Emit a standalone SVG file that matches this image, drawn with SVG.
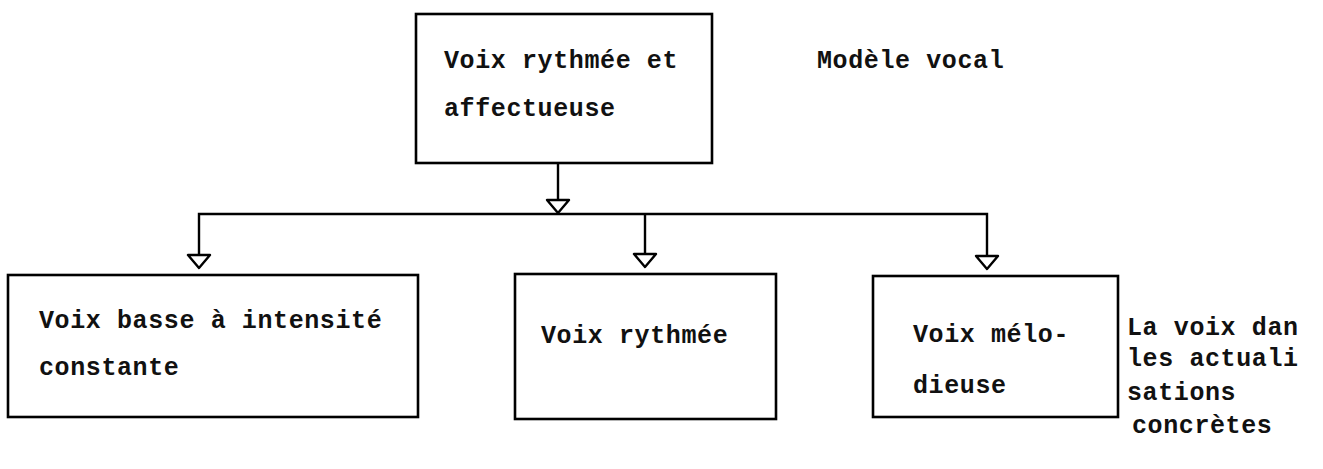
<svg xmlns="http://www.w3.org/2000/svg" width="1323" height="469" viewBox="0 0 1323 469">
  <style>
    .box { fill: none; stroke: #000; stroke-width: 2.6; }
    .wire { fill: none; stroke: #000; stroke-width: 2.4; }
    .tip { fill: #fff; stroke: #000; stroke-width: 2.4; stroke-linejoin: round; }
    text { font-family: "Liberation Mono", "Courier New", monospace; font-size: 25px; font-weight: bold; fill: #111; letter-spacing: 0.6px; }
  </style>
  <defs>
    <!-- open downward triangle used at the end of each drop line -->
    <polygon id="head" class="tip" points="-11,-13 11,-13 0,0"/>
  </defs>
  <rect width="1323" height="469" fill="#fff"/>

  <g id="connectors">
    <path class="wire" d="M558,163 V200"/>
    <path class="wire" d="M199,268 V214 H987 V268"/>
    <path class="wire" d="M645,214 V266"/>
    <use href="#head" x="558" y="213"/>
    <use href="#head" x="199" y="268"/>
    <use href="#head" x="645" y="267"/>
    <use href="#head" x="987" y="269"/>
  </g>

  <g id="node-top">
    <rect class="box" x="416" y="14" width="296" height="149"/>
    <text x="444" y="68">Voix rythmée et</text>
    <text x="444" y="116">affectueuse</text>
  </g>

  <g id="label-model">
    <text x="817" y="68">Modèle vocal</text>
  </g>

  <g id="node-low">
    <rect class="box" x="8" y="275" width="410" height="142"/>
    <text x="39" y="328">Voix basse à intensité</text>
    <text x="39" y="375">constante</text>
  </g>

  <g id="node-rhythm">
    <rect class="box" x="515" y="274" width="261" height="145"/>
    <text x="541" y="343">Voix rythmée</text>
  </g>

  <g id="node-melody">
    <rect class="box" x="873" y="276" width="245" height="141"/>
    <text x="913" y="342">Voix mélo-</text>
    <text x="913" y="393">dieuse</text>
  </g>

  <g id="label-actual">
    <text x="1127" y="335">La voix dan</text>
    <text x="1127" y="366">les actuali</text>
    <text x="1127" y="400">sations</text>
    <text x="1132" y="433">concrètes</text>
  </g>
</svg>
